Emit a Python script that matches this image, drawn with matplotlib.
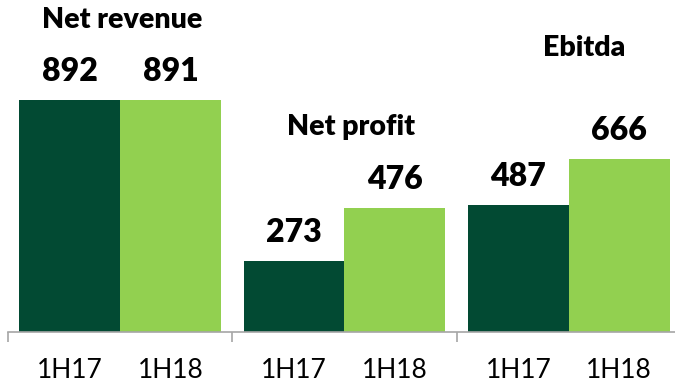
import matplotlib
matplotlib.use("Agg")
import matplotlib.pyplot as plt
import numpy as np

# Half-year results
metrics = ["Net revenue", "Net profit", "Ebitda"]
periods = ["1H17", "1H18"]
values_1h17 = [892, 273, 487]
values_1h18 = [891, 476, 666]

colors = ["#024A33", "#92D050"]
# metric name placement relative to the taller bar of each group (pixels)
title_offsets_px = [(2, 80), (7, 81), (15, 111)]

plt.rcParams["font.family"] = ["Lato", "DejaVu Sans"]

W, H, DPI = 675, 389, 100
fig = plt.figure(figsize=(W / DPI, H / DPI), dpi=DPI)

left_px, base_px, group_px = 8, 332, 224.3
ax = fig.add_axes([left_px / W, (H - base_px) / H, 3 * group_px / W, base_px / H])

x = np.arange(len(metrics))
bw = 0.45
series = [values_1h17, values_1h18]
for i, (vals, col) in enumerate(zip(series, colors)):
    pos = x + (i - 0.5) * bw
    ax.bar(pos, vals, width=bw, color=col, linewidth=0)
    for p, v in zip(pos, vals):
        ax.annotate(f"{v}", (p, v), xytext=(0, 14), textcoords="offset pixels",
                    ha="center", va="bottom", fontsize=23, fontweight="heavy",
                    color="black")

for xi, name, off in zip(x, metrics, title_offsets_px):
    top = max(values_1h17[xi], values_1h18[xi])
    ax.annotate(name, (xi, top), xytext=off, textcoords="offset pixels",
                ha="center", va="center", fontsize=20.5, fontweight="heavy",
                color="black")

ax.set_xlim(-0.5, len(metrics) - 0.5)
ax.set_ylim(0, 1277)

for s in ["top", "right", "left"]:
    ax.spines[s].set_visible(False)
ax.spines["bottom"].set_color("#A6A6A6")
ax.spines["bottom"].set_linewidth(1.2)

tick_pos = np.concatenate([x - bw / 2, x + bw / 2])
tick_lab = [periods[0]] * len(x) + [periods[1]] * len(x)
ax.set_xticks(tick_pos)
ax.set_xticklabels(tick_lab, fontsize=19)
ax.tick_params(axis="x", which="major", length=0, pad=19)
ax.set_xticks(np.arange(-0.5, len(metrics), 1.0), minor=True)
ax.tick_params(axis="x", which="minor", length=7.5, width=1.2, color="#A6A6A6")
ax.set_yticks([])

fig.savefig("out.png", dpi=DPI)
